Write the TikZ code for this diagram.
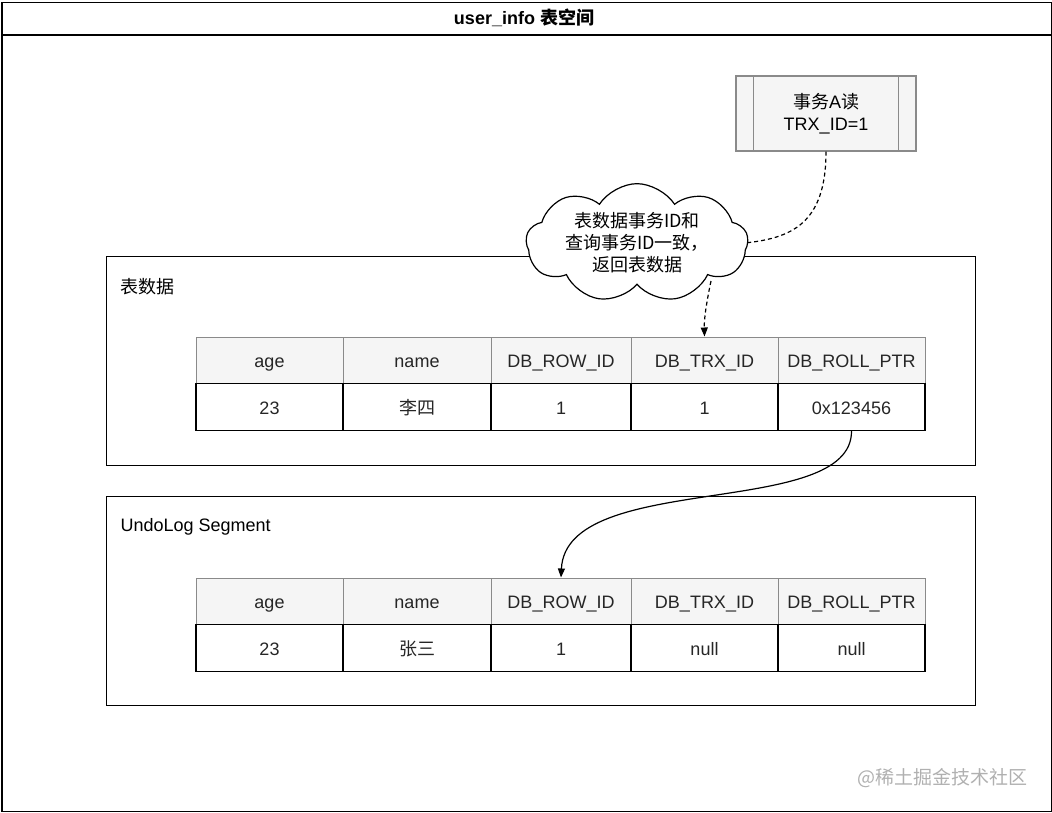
\documentclass[tikz,border=0pt]{standalone}
\usepackage{fontspec}
\setmainfont{Liberation Sans}
\newfontfamily\cjk{Noto Sans CJK SC}
\usetikzlibrary{shapes.symbols,arrows.meta}
\definecolor{hdrfill}{HTML}{F5F5F5}
\definecolor{hdrline}{HTML}{8A8A8A}
\definecolor{wm}{HTML}{B0B0B0}
\tikzset{
  txt/.style={font=\fontsize{18}{22}\selectfont},
  hcell/.style={txt, draw=hdrline, fill=hdrfill, line width=1pt, minimum height=46pt, inner sep=0pt, text=black!85, text height=15pt, text depth=0pt},
  dcell/.style={txt, draw=black, line width=1.2pt, minimum height=47pt, inner sep=0pt, text=black!85, text height=15pt, text depth=0pt},
  frame/.style={draw=black, line width=1.2pt},
  dashconn/.style={draw=black, line width=1.2pt, dash pattern=on 4pt off 3pt},
  tip/.style={-{Triangle[length=9pt,width=7pt]}},
}
\begin{document}
\begin{tikzpicture}[x=1pt,y=-1pt]
\useasboundingbox (0,0) rectangle (1052,812);
% outer frame
\node[frame, minimum width=1049pt, minimum height=809pt, inner sep=0pt, anchor=north west] (outer) at (1.5,1.5) {};
\coordinate (tl) at (1.5,35);
\coordinate (tr) at (1050.5,35);
\draw[frame] (tl) -- (tr);
\node[font=\fontsize{18}{22}\selectfont\bfseries] (title) at (524,18) {user\_info {\cjk 表空间}};
% container boxes
\node[frame, minimum width=869pt, minimum height=209pt, inner sep=0pt, anchor=north west] (box1) at (106,256) {};
\node[txt, anchor=west] (l1) at (117,287) {\cjk 表数据};
\node[frame, minimum width=869pt, minimum height=209pt, inner sep=0pt, anchor=north west] (box2) at (106,496) {};
\node[txt, anchor=west] (l2) at (117,527) {UndoLog Segment};
% table 1
\node[hcell, minimum width=147pt] (a1) at (269.5,360) {age};
\node[hcell, minimum width=148pt] (b1) at (417,360) {name};
\node[hcell, minimum width=140pt] (c1) at (561,360) {DB\_ROW\_ID};
\node[hcell, minimum width=147pt] (d1) at (704.5,360) {DB\_TRX\_ID};
\node[hcell, minimum width=147pt] (e1) at (851.5,360) {DB\_ROLL\_PTR};
\node[dcell, minimum width=147pt] (a1d) at (269.5,407) {23};
\node[dcell, minimum width=148pt] (b1d) at (417,407) {\cjk 李四};
\node[dcell, minimum width=140pt] (c1d) at (561,407) {1};
\node[dcell, minimum width=147pt] (d1d) at (704.5,407) {1};
\node[dcell, minimum width=147pt] (e1d) at (851.5,407) {0x123456};
% table 2
\node[hcell, minimum width=147pt] (a2) at (269.5,601) {age};
\node[hcell, minimum width=148pt] (b2) at (417,601) {name};
\node[hcell, minimum width=140pt] (c2) at (561,601) {DB\_ROW\_ID};
\node[hcell, minimum width=147pt] (d2) at (704.5,601) {DB\_TRX\_ID};
\node[hcell, minimum width=147pt] (e2) at (851.5,601) {DB\_ROLL\_PTR};
\node[dcell, minimum width=147pt] (a2d) at (269.5,648) {23};
\node[dcell, minimum width=148pt] (b2d) at (417,648) {\cjk 张三};
\node[dcell, minimum width=140pt] (c2d) at (561,648) {1};
\node[dcell, minimum width=147pt] (d2d) at (704.5,648) {null};
\node[dcell, minimum width=147pt] (e2d) at (851.5,648) {null};
% transaction box
\node[draw=hdrline, fill=hdrfill, line width=1.2pt, minimum width=180pt, minimum height=75pt, inner sep=0pt, txt, align=center] (trx) at (826,113.5) {{\cjk 事务}A{\cjk 读}\\TRX\_ID=1};
\draw[draw=hdrline, line width=1.2pt] ([xshift=18pt]trx.north west) -- ([xshift=18pt]trx.south west);
\draw[draw=hdrline, line width=1.2pt] ([xshift=-18pt]trx.north east) -- ([xshift=-18pt]trx.south east);
% cloud
\node[cloud, cloud puffs=9, cloud puff arc=115, cloud ignores aspect, draw=black, fill=white, line width=1.2pt, minimum width=222pt, minimum height=104pt, inner sep=0pt, txt, align=center] (cl) at (637,243) {\cjk 表数据事务ID和\\\cjk 查询事务ID一致，\\\cjk 返回表数据};
\coordinate (clr) at (745,243);
\coordinate (clb) at (711,281);
% connectors
\draw[dashconn] (trx.south) .. controls (826,225) and (790,238) .. (clr);
\draw[dashconn, tip] (clb) .. controls (707,300) and (704,318) .. (d1.north);
\draw[black, line width=1.2pt, tip] (e1d.south) .. controls (852,520) and (566,470) .. (c2.north);
% watermark
\node[font=\cjk\fontsize{19}{22}\selectfont, text=wm, anchor=east] (wmk) at (1031,778) {@稀土掘金技术社区};
\end{tikzpicture}
\end{document}
